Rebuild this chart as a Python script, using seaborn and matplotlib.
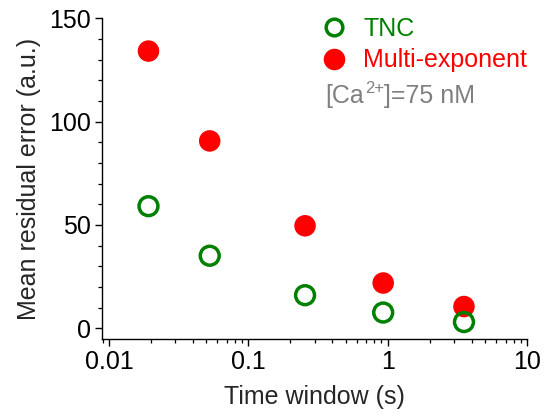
import numpy as np
import pandas as pd
import matplotlib
matplotlib.use("Agg")
import matplotlib.pyplot as plt
import seaborn as sns
from matplotlib.ticker import FixedLocator, MultipleLocator, LogLocator, NullFormatter, FixedFormatter
from matplotlib.lines import Line2D

time_window = [0.0192, 0.0528, 0.255, 0.927, 3.52]
tnc_error = [59.1, 35.1, 16.0, 7.6, 3.0]
multi_error = [134.2, 90.7, 49.6, 21.9, 10.5]
x_ticks = [0.01, 0.1, 1, 10]
x_tick_labels = ["0.01", "0.1", "1", "10"]
y_ticks = [0, 50, 100, 150]

sns.set_style("ticks")
plt.rcParams['font.family'] = ['Liberation Sans', 'DejaVu Sans']

fig = plt.figure(figsize=(5.48, 4.19), dpi=100)
ax = fig.add_axes([0.186, 0.191, 0.776, 0.765])

df_m = pd.DataFrame({"t": time_window, "err": multi_error})
df_t = pd.DataFrame({"t": time_window, "err": tnc_error})

sns.scatterplot(data=df_m, x="t", y="err", ax=ax, s=240, color="#ff0000",
                edgecolor="none", linewidth=0, zorder=3)
sns.scatterplot(data=df_t, x="t", y="err", ax=ax, s=185, facecolor="none",
                edgecolor="#008000", linewidth=2.5, zorder=4)

ax.set_xscale("log")
ax.set_xlim(0.0089, 10.0)
ax.set_ylim(-5.2, 150)

ax.xaxis.set_major_locator(FixedLocator(x_ticks))
ax.xaxis.set_major_formatter(FixedFormatter(x_tick_labels))
ax.xaxis.set_minor_locator(LogLocator(base=10, subs=np.arange(2, 10)))
ax.xaxis.set_minor_formatter(NullFormatter())
ax.yaxis.set_major_locator(FixedLocator(y_ticks))
ax.yaxis.set_minor_locator(MultipleLocator(10))

for s in ["top", "right"]:
    ax.spines[s].set_visible(False)
for s in ["left", "bottom"]:
    ax.spines[s].set_color("black")
    ax.spines[s].set_linewidth(1.0)

ax.tick_params(which="major", direction="out", length=5, width=1.0, colors="black",
               labelsize=18, pad=3)
ax.tick_params(which="minor", direction="out", length=3, width=0.9, colors="black")

ax.set_xlabel("Time window (s)", fontsize=18, labelpad=8)
ax.set_ylabel("Mean residual error (a.u.)", fontsize=18, labelpad=6)

handles = [
    Line2D([], [], marker="o", linestyle="none", markersize=12, markerfacecolor="none",
           markeredgecolor="#008000", markeredgewidth=2.5),
    Line2D([], [], marker="o", linestyle="none", markersize=15.5, markerfacecolor="#ff0000",
           markeredgecolor="none"),
]
leg = ax.legend(handles, ["TNC", "Multi-exponent"], loc="upper left",
                bbox_to_anchor=(0.488, 1.036), frameon=False, fontsize=18,
                handletextpad=0.56, labelspacing=0.3, borderaxespad=0,
                handlelength=1.2)
for txt, c in zip(leg.get_texts(), ["#008000", "#ff0000"]):
    txt.set_color(c)

gray = "#808080"
t1 = ax.text(0.525, 0.72, "[Ca", transform=ax.transAxes, fontsize=18,
             color=gray, ha="left", va="bottom")
t2 = ax.annotate("2+", xy=(1, 0.5), xycoords=t1, xytext=(0.5, 0),
                 textcoords="offset points", fontsize=12, color=gray,
                 ha="left", va="bottom")
t3 = ax.annotate("]=75 nM", xy=(1, 0), xycoords=(t2, t1), xytext=(0.3, 0),
                 textcoords="offset points", fontsize=18, color=gray,
                 ha="left", va="bottom")

fig.savefig("out.png", dpi=100)
